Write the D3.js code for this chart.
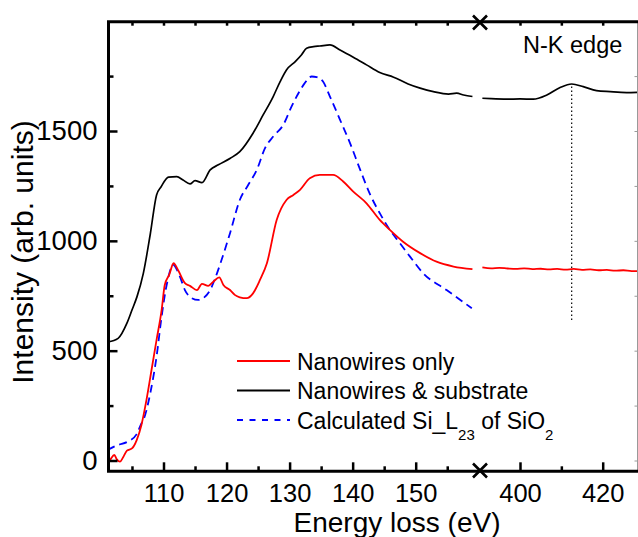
<!DOCTYPE html>
<html>
<head>
<meta charset="utf-8">
<script src="https://cdn.jsdelivr.net/npm/d3@7"></script>
<style>
  body { margin: 0; background: #fff; }
  svg { display: block; font-family: Arial, "Liberation Sans", sans-serif; }
</style>
</head>
<body>
<div id="chart"></div>
<script>

// energy loss (eV), intensity (arb. units) -- low range (Si L edge)
var nanowiresOnlyLow = [
	[101.0,-10],[101.5,2],[102.2,25],[102.6,5],[103.1,-5],[103.6,15],[104.2,45],[105.0,55],
	[105.75,93],[106.5,162],[107.3,276],[108.1,412],[108.9,549],[109.7,685],[110.2,799],
	[110.9,845],[111.6,898],[112.3,867],[113.4,807],[114.2,795],[115.3,776],[116.1,804],
	[117.1,795],[117.9,814],[118.85,834],[119.5,799],[120.55,776],[121.3,754],[122.1,743],
	[123.2,739],[124.2,761],[125.3,822],[126.4,898],[127.95,1095],[129.5,1186],[130.6,1209],
	[131.65,1232],[133.2,1285],[134.8,1300],[136.9,1300],[138.5,1270],[140.1,1224],
	[142.2,1171],[144.3,1095],[145.9,1050],[148.0,996],[150.7,944],[153.3,905],[156.0,883],
	[159.0,871]
];
var nanowiresOnlyHigh = [
	[390.9,879],[393,875],[395,877],[397,874],[399,872],[401,875],[403,871],[405,873],
	[407,870],[409,872],[411,869],[413,872],[415,868],[417,870],[419,866],[421,868],
	[423,864],[425,866],[427,862],[428.3,862]
];
var withSubstrateLow = [
	[101.2,540],[102.8,556],[104.2,625],[105,685],[105.8,746],[106.8,852],[107.9,1030],
	[108.9,1209],[109.6,1245],[110.8,1290],[112.1,1292],[113.1,1277],[114.2,1259],[115,1274],
	[116.1,1265],[117.4,1323],[118.7,1346],[120.6,1376],[122.1,1406],[124.2,1490],[125.8,1573],
	[127.4,1657],[128.5,1725],[129.5,1778],[130.9,1816],[131.9,1847],[132.7,1877],[133.8,1884],
	[134.8,1887],[136.4,1892],[138,1869],[140.1,1836],[142.2,1801],[144.3,1766],[146.5,1745],
	[148.8,1714],[150.7,1695],[152.8,1679],[155.2,1668],[156.5,1672],[157.6,1664],[159,1657]
];
var withSubstrateHigh = [
	[390.9,1649],[393,1647],[396.8,1645],[400,1646],[403.2,1645],[406.5,1664],[409.7,1698],
	[412.5,1714],[415.3,1702],[418.5,1684],[421.8,1679],[425.8,1675],[428.3,1676]
];
var calculatedSiO2 = [
	[101.1,48],[102.8,71],[104.2,84],[105.75,120],[106.5,169],[106.8,184],[107.9,306],
	[108.9,473],[109.7,655],[110.5,799],[111.55,890],[112.6,837],[113.4,776],[114.5,739],
	[115.5,731],[116.3,739],[117.4,776],[118.2,830],[119.0,895],[120.55,1035],[122.1,1186],
	[123.45,1255],[124.8,1323],[126.1,1422],[127.4,1475],[129.0,1528],[130.3,1611],
	[131.4,1672],[132.4,1718],[133.5,1748],[134.3,1745],[135.3,1725],[136.4,1657],
	[138.0,1551],[139.6,1444],[141.2,1323],[142.8,1209],[144.3,1126],[145.9,1050],
	[147.5,989],[149.1,928],[151.2,852],[154.9,776],[158.9,693]
];

// N-K edge marker: energy and the span of the dotted line
var nkEdgeEnergy = 412.5;
var nkEdgeSpan = [640, 1714];

var xTicksLow = [110, 120, 130, 140, 150];
var xMinorLow = [105, 115, 125, 135, 145, 155];
var xTicksHigh = [400, 420];
var xMinorHigh = [410];
var yTicks = [0, 500, 1000, 1500];
var yMinor = [250, 750, 1250, 1750];

var legendLabels = ["Nanowires only", "Nanowires & substrate", "Calculated Si_L"];

var width = 638, height = 537;
var plotLeft = 108.5, plotRight = 637.5, plotTop = 21.7, plotBottom = 471.3, breakX = 480;

var svg = d3.select("#chart").append("svg")
	.attr("width", width)
	.attr("height", height);

// scales calibrated on the tick marks
var xL = d3.scaleLinear().domain([110, 150]).range([163.5, 415.7]);
var xR = d3.scaleLinear().domain([400, 420]).range([520, 602.7]);
var y = d3.scaleLinear().domain([0, 1500]).range([460.5, 131]);

// clip each segment
var defs = svg.append("defs");
defs.append("clipPath").attr("id", "clipL").append("rect")
	.attr("x", plotLeft).attr("y", plotTop).attr("width", breakX - plotLeft).attr("height", plotBottom - plotTop);
defs.append("clipPath").attr("id", "clipR").append("rect")
	.attr("x", breakX).attr("y", plotTop).attr("width", plotRight - breakX).attr("height", plotBottom - plotTop);

var lineL = d3.line().x(function(d) { return xL(d[0]); }).y(function(d) { return y(d[1]); }).curve(d3.curveMonotoneX);
var lineR = d3.line().x(function(d) { return xR(d[0]); }).y(function(d) { return y(d[1]); }).curve(d3.curveMonotoneX);

var gL = svg.append("g").attr("clip-path", "url(#clipL)");
var gR = svg.append("g").attr("clip-path", "url(#clipR)");

gL.append("path").datum(calculatedSiO2)
	.attr("d", lineL).attr("fill", "none").attr("stroke", "#0000ff")
	.attr("stroke-width", 1.8).attr("stroke-dasharray", "8,5");
gL.append("path").datum(withSubstrateLow)
	.attr("d", lineL).attr("fill", "none").attr("stroke", "#000").attr("stroke-width", 1.7);
gL.append("path").datum(nanowiresOnlyLow)
	.attr("d", lineL).attr("fill", "none").attr("stroke", "#ff0000").attr("stroke-width", 1.8);

gR.append("path").datum(withSubstrateHigh)
	.attr("d", lineR).attr("fill", "none").attr("stroke", "#000").attr("stroke-width", 1.7);
gR.append("path").datum(nanowiresOnlyHigh)
	.attr("d", lineR).attr("fill", "none").attr("stroke", "#ff0000").attr("stroke-width", 1.8);

// dotted N-K edge marker
gR.append("line")
	.attr("x1", xR(nkEdgeEnergy)).attr("x2", xR(nkEdgeEnergy))
	.attr("y1", y(nkEdgeSpan[0])).attr("y2", y(nkEdgeSpan[1]))
	.attr("stroke", "#000").attr("stroke-width", 1.2).attr("stroke-dasharray", "1.5,2.5");

svg.append("text")
	.attr("x", 523).attr("y", 53)
	.attr("font-size", 23.5)
	.text("N-K edge");

// axes
var styleAxis = function(g, fs) {
	g.select(".domain").remove();
	g.attr("font-family", null).attr("font-size", fs);
	g.selectAll(".tick line").attr("stroke-width", 2.5);
	g.selectAll(".tick text").attr("fill", "#000");
};

var addX = function(scale, major, minor, yPos, labels) {
	var ax = labels ? d3.axisBottom(scale) : d3.axisTop(scale);
	svg.append("g")
		.attr("transform", "translate(0," + yPos + ")")
		.call(ax.tickValues(major).tickSizeInner(labels ? -9 : -4).tickSizeOuter(0).tickPadding(13)
			.tickFormat(labels ? d3.format("d") : ""))
		.call(styleAxis, 25.5);
	var ax2 = labels ? d3.axisBottom(scale) : d3.axisTop(scale);
	svg.append("g")
		.attr("transform", "translate(0," + yPos + ")")
		.call(ax2.tickValues(minor).tickSizeInner(labels ? -5 : -4).tickSizeOuter(0).tickFormat(""))
		.call(styleAxis, 25.5);
};

addX(xL, xTicksLow, xMinorLow, plotBottom, true);
addX(xR, xTicksHigh, xMinorHigh, plotBottom, true);
addX(xL, xTicksLow, xMinorLow, plotTop, false);
addX(xR, xTicksHigh, xMinorHigh, plotTop, false);

svg.append("g")
	.attr("transform", "translate(" + plotLeft + ",0)")
	.call(d3.axisLeft(y).tickValues(yTicks).tickSizeInner(-9).tickSizeOuter(0).tickPadding(11)
		.tickFormat(d3.format("d")))
	.call(styleAxis, 27.5);
svg.append("g")
	.attr("transform", "translate(" + plotLeft + ",0)")
	.call(d3.axisLeft(y).tickValues(yMinor).tickSizeInner(-5).tickSizeOuter(0).tickFormat(""))
	.call(styleAxis, 27.5);

// right axis, mostly cut at the image edge
svg.append("g")
	.attr("transform", "translate(" + plotRight + ",0)")
	.call(d3.axisRight(y).tickValues(yTicks.concat(yMinor)).tickSizeInner(-3).tickSizeOuter(0).tickFormat(""))
	.call(styleAxis, 26)
	.selectAll(".tick line").attr("stroke", "#999").attr("stroke-width", 1);
svg.append("line")
	.attr("x1", plotRight).attr("x2", plotRight).attr("y1", plotTop).attr("y2", plotBottom)
	.attr("stroke", "#999").attr("stroke-width", 1);

// frame
svg.append("path")
	.attr("d", "M" + plotLeft + "," + plotTop + "V" + plotBottom)
	.attr("stroke", "#000").attr("stroke-width", 3);
svg.append("path")
	.attr("d", "M" + (plotLeft - 1.5) + "," + plotBottom + "H" + width)
	.attr("stroke", "#000").attr("stroke-width", 3);
svg.append("path")
	.attr("d", "M" + (plotLeft - 1.5) + "," + plotTop + "H" + width)
	.attr("stroke", "#000").attr("stroke-width", 3);

// axis break marks
[plotTop + 0.8, plotBottom - 0.8].forEach(function(yy) {
	var s = 7;
	svg.append("path")
		.attr("d", "M" + (breakX - s) + "," + (yy - s) + "L" + (breakX + s) + "," + (yy + s) +
			"M" + (breakX + s) + "," + (yy - s) + "L" + (breakX - s) + "," + (yy + s))
		.attr("stroke", "#000").attr("stroke-width", 2.6).attr("fill", "none");
});

// axis titles
svg.append("text")
	.attr("x", 397).attr("y", 532)
	.attr("text-anchor", "middle")
	.attr("font-size", 28)
	.text("Energy loss (eV)");

svg.append("text")
	.attr("transform", "translate(33,252)rotate(-90)")
	.attr("text-anchor", "middle")
	.attr("font-size", 30)
	.text("Intensity (arb. units)");

// legend
var legendStyles = [
	{ color: "#ff0000", dash: null },
	{ color: "#000", dash: null },
	{ color: "#0000ff", dash: "6,6.5" }
];
var legendRows = [361, 390.5, 420];

legendLabels.forEach(function(label, i) {
	svg.append("line")
		.attr("x1", 237).attr("x2", 290)
		.attr("y1", legendRows[i]).attr("y2", legendRows[i])
		.attr("stroke", legendStyles[i].color)
		.attr("stroke-width", 1.8)
		.attr("stroke-dasharray", legendStyles[i].dash);
	var t = svg.append("text")
		.attr("x", 297).attr("y", legendRows[i] + 8.5)
		.attr("font-size", 23)
		.text(label);
	if (i === 2) {
		t.append("tspan").attr("font-size", 15).attr("dy", 11).text("23");
		t.append("tspan").attr("dy", -11).text(" of SiO");
		t.append("tspan").attr("font-size", 15).attr("dy", 11).text("2");
	}
});

</script>
</body>
</html>
